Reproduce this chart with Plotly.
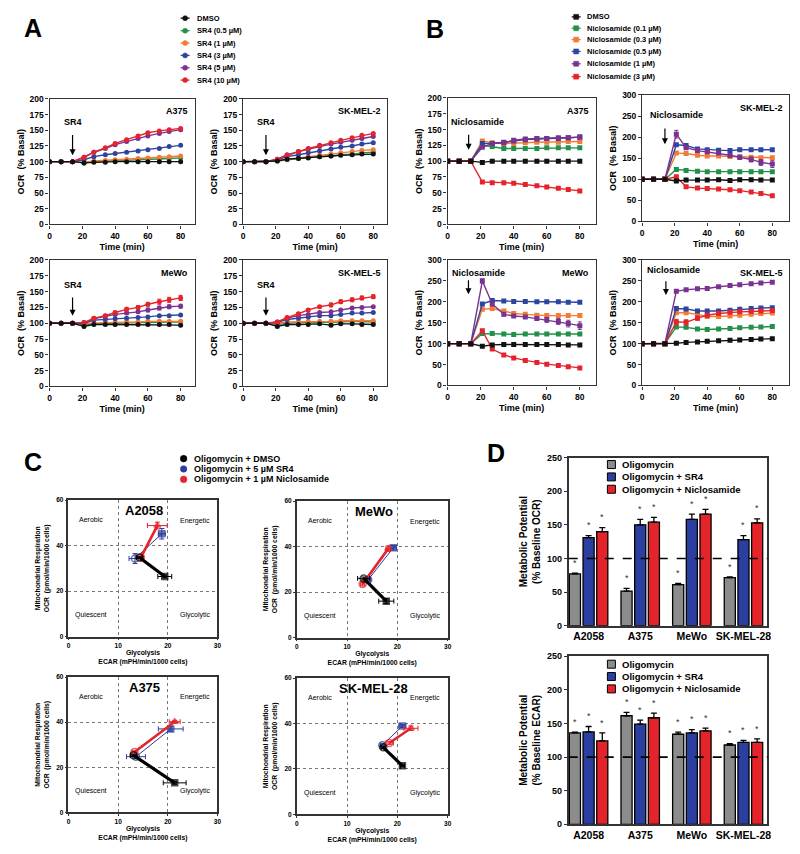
import plotly.graph_objects as go

W, H = 800, 854
FONT = "Liberation Sans, Arial, Helvetica, sans-serif"

# ------------------------------------------------------------------ data
time_min = [0, 7, 14, 21, 27, 34, 40, 47, 54, 60, 67, 73, 80]

sr4_labels = ["DMSO", "SR4 (0.5 µM)", "SR4 (1 µM)", "SR4 (3 µM)", "SR4 (5 µM)", "SR4 (10 µM)"]
nic_labels = ["DMSO", "Niclosamide (0.1 µM)", "Niclosamide (0.3 µM)",
              "Niclosamide (0.5 µM)", "Niclosamide (1 µM)", "Niclosamide (3 µM)"]
dose_colors = ["#111111", "#23904a", "#f47b36", "#2c46a0", "#7a3290", "#e5232b"]

# Panel A: OCR (% basal) after SR4, order = sr4_labels
sr4_A375 = [
    [100, 100, 100, 98, 99, 99, 100, 100, 100, 100, 100, 100, 100],
    [100, 100, 100, 98, 100, 101, 102, 102, 103, 104, 104, 105, 106],
    [100, 100, 100, 99, 101, 102, 103, 104, 105, 106, 107, 108, 109],
    [100, 100, 100, 103, 108, 111, 113, 115, 117, 119, 121, 124, 126],
    [100, 100, 100, 107, 115, 121, 127, 132, 137, 141, 145, 148, 151],
    [100, 100, 100, 107, 115, 122, 129, 135, 141, 146, 149, 151, 153],
]
sr4_SKMEL2 = [
    [100, 100, 100, 101, 104, 105, 106, 108, 109, 110, 111, 112, 112],
    [100, 100, 100, 101, 103, 105, 107, 108, 109, 111, 112, 114, 115],
    [100, 100, 100, 102, 104, 106, 108, 110, 112, 114, 116, 118, 119],
    [100, 100, 100, 103, 108, 111, 114, 117, 120, 123, 125, 128, 130],
    [100, 100, 100, 104, 111, 116, 120, 124, 128, 131, 134, 137, 140],
    [100, 100, 100, 104, 110, 116, 121, 126, 130, 134, 138, 142, 145],
]
sr4_MeWo = [
    [100, 100, 100, 95, 98, 98, 98, 98, 98, 98, 98, 98, 97],
    [100, 100, 100, 98, 99, 100, 100, 101, 101, 101, 102, 102, 102],
    [100, 100, 100, 99, 100, 101, 101, 102, 102, 103, 103, 103, 103],
    [100, 100, 100, 100, 105, 106, 107, 108, 109, 110, 112, 112, 113],
    [100, 100, 100, 101, 107, 111, 114, 116, 118, 121, 124, 126, 127],
    [100, 100, 100, 101, 108, 112, 117, 122, 125, 130, 134, 137, 140],
]
sr4_MeWo_err_10uM = [0, 0, 0, 1, 2, 2, 2, 3, 3, 3, 4, 4, 4]
sr4_MeWo_err_5uM = [0, 0, 0, 1, 1, 2, 2, 2, 2, 3, 3, 3, 3]
sr4_SKMEL5 = [
    [100, 100, 100, 95, 98, 98, 98, 99, 97, 99, 99, 98, 98],
    [100, 100, 100, 98, 100, 101, 101, 102, 101, 102, 103, 102, 102],
    [100, 100, 100, 100, 102, 102, 103, 103, 103, 104, 104, 104, 104],
    [100, 100, 100, 101, 106, 108, 110, 112, 112, 114, 116, 116, 117],
    [100, 100, 100, 102, 108, 112, 114, 117, 118, 121, 124, 125, 126],
    [100, 100, 100, 102, 109, 115, 121, 126, 129, 134, 137, 140, 142],
]
sr4_SKMEL5_err_10uM = [0, 0, 0, 1, 2, 2, 2, 2, 3, 3, 3, 3, 3]

# Panel B: OCR (% basal) after niclosamide, order = nic_labels
nic_A375 = [
    [100, 100, 100, 98, 100, 100, 100, 100, 100, 100, 100, 100, 100],
    [100, 100, 100, 125, 123, 120, 120, 120, 120, 121, 121, 121, 121],
    [100, 100, 100, 132, 129, 128, 128, 129, 130, 130, 130, 131, 131],
    [100, 100, 100, 128, 128, 130, 132, 134, 135, 136, 136, 137, 138],
    [100, 100, 100, 122, 128, 129, 133, 135, 136, 136, 137, 137, 138],
    [100, 100, 100, 67, 66, 66, 65, 63, 61, 59, 57, 55, 53],
]
nic_SKMEL2 = [
    [100, 100, 100, 96, 98, 98, 98, 99, 97, 99, 99, 98, 98],
    [100, 100, 100, 123, 121, 119, 118, 118, 118, 118, 118, 118, 118],
    [100, 100, 100, 162, 161, 157, 155, 155, 154, 153, 152, 151, 151],
    [100, 100, 100, 182, 180, 172, 170, 169, 168, 170, 170, 170, 170],
    [100, 100, 100, 207, 175, 168, 165, 162, 157, 152, 147, 140, 136],
    [100, 100, 100, 106, 82, 79, 78, 77, 75, 73, 70, 66, 61],
]
nic_SKMEL2_err_1uM = [0, 0, 0, 9, 4, 3, 3, 3, 4, 5, 6, 7, 8]
nic_MeWo = [
    [100, 100, 100, 94, 97, 98, 98, 98, 98, 98, 98, 97, 97],
    [100, 100, 100, 124, 124, 123, 122, 123, 123, 123, 123, 123, 123],
    [100, 100, 100, 182, 184, 178, 172, 170, 168, 167, 167, 167, 167],
    [100, 100, 100, 195, 203, 202, 201, 201, 200, 200, 200, 199, 199],
    [100, 100, 100, 250, 195, 170, 166, 164, 160, 157, 153, 148, 143],
    [100, 100, 100, 131, 87, 73, 66, 60, 55, 51, 48, 45, 42],
]
nic_MeWo_err_1uM = [0, 0, 0, 5, 4, 4, 3, 3, 4, 6, 7, 8, 9]
nic_SKMEL5 = [
    [100, 100, 100, 101, 103, 104, 106, 107, 108, 109, 110, 111, 112],
    [100, 100, 100, 140, 139, 135, 134, 135, 136, 138, 139, 140, 141],
    [100, 100, 100, 174, 174, 170, 165, 165, 166, 168, 170, 172, 173],
    [100, 100, 100, 184, 183, 178, 178, 178, 180, 182, 184, 185, 186],
    [100, 100, 100, 225, 229, 231, 232, 236, 239, 241, 243, 245, 247],
    [100, 100, 100, 152, 151, 161, 168, 172, 175, 176, 177, 178, 179],
]
nic_SKMEL5_err_3uM = [0, 0, 0, 6, 6, 5, 4, 3, 3, 3, 3, 3, 3]

# Panel C: energy maps, [baseline, after oligomycin]
c_labels = ["Oligomycin + DMSO", "Oligomycin + 5 µM SR4", "Oligomycin + 1 µM Niclosamide"]
c_colors = ["#000000", "#2b3c9c", "#e5232b"]
# ECAR (x), OCR (y), x-error, y-error
c_A2058_ecar = [[14.3, 19.4], [13.4, 18.8], [14.6, 17.9]]
c_A2058_ocr = [[34.8, 26.4], [34.3, 45.2], [34.8, 48.8]]
c_A2058_xerr = [[0.6, 1.4], [1.2, 0.7], [0.5, 2.0]]
c_A2058_yerr = [[0.5, 0.6], [2.2, 2.3], [0.5, 1.5]]
c_MeWo_ecar = [[13.3, 17.8], [14.2, 19.2], [13.1, 18.2]]
c_MeWo_ocr = [[26.0, 16.0], [25.4, 39.5], [23.5, 39.1]]
c_MeWo_xerr = [[1.2, 1.5], [0.5, 0.6], [0.4, 0.5]]
c_MeWo_yerr = [[0.6, 1.0], [0.6, 1.0], [0.8, 1.2]]
c_A375_ecar = [[13.1, 21.4], [13.6, 20.6], [13.3, 21.4]]
c_A375_ocr = [[25.3, 13.1], [24.7, 37.0], [26.8, 40.2]]
c_A375_xerr = [[0.6, 2.3], [1.9, 2.5], [0.5, 1.1]]
c_A375_yerr = [[0.5, 0.6], [0.6, 1.0], [0.5, 0.6]]
c_SKMEL28_ecar = [[17.2, 21.0], [17.0, 21.0], [18.4, 22.7]]
c_SKMEL28_ocr = [[29.5, 21.4], [30.4, 38.9], [31.4, 37.9]]
c_SKMEL28_xerr = [[0.4, 0.4], [0.4, 0.7], [0.8, 1.4]]
c_SKMEL28_yerr = [[0.5, 0.4], [0.6, 0.6], [0.6, 1.0]]

# Panel D: metabolic potential
d_cells = ["A2058", "A375", "MeWo", "SK-MEL-28"]
d_labels = ["Oligomycin", "Oligomycin + SR4", "Oligomycin + Niclosamide"]
d_colors = ["#8c8c8c", "#2b3fa0", "#e5232b"]
d_ocr = [[77, 51.5, 61, 71.5], [131, 150, 158, 128], [140, 154, 166, 153]]
d_ocr_err = [[1, 4, 2, 1], [3, 8, 8, 6], [6, 7, 7, 6]]
d_ecar = [[136, 161.5, 134, 118], [137.5, 149, 136, 122], [124, 158.5, 139, 122]]
d_ecar_err = [[1, 5, 3, 2], [8, 6, 5, 3], [12, 7, 4, 5]]


# ------------------------------------------------------------------ helpers
def PX(px):
    return px / W


def PY(py):
    return 1 - py / H


fig = go.Figure()
layout = dict(width=W, height=H, margin=dict(l=0, r=0, t=0, b=0),
              paper_bgcolor="white", plot_bgcolor="white", showlegend=False,
              font=dict(family=FONT, color="black"))
annotations = []
shapes = []


def axis_keys(i):
    return ("xaxis" if i == 1 else f"xaxis{i}", "yaxis" if i == 1 else f"yaxis{i}",
            "x" if i == 1 else f"x{i}", "y" if i == 1 else f"y{i}")


def set_axes(i, box, xcfg, ycfg):
    l, t, r, b = box
    xk, yk, xr, yr = axis_keys(i)
    xcfg = dict(xcfg)
    ycfg = dict(ycfg)
    xcfg.update(domain=[PX(l), PX(r)], anchor=yr)
    ycfg.update(domain=[PY(b), PY(t)], anchor=xr)
    layout[xk] = xcfg
    layout[yk] = ycfg
    return xr, yr


def line_ax(lw=1.3, tick=8.5, title=9.0):
    return dict(showline=True, mirror=True, linecolor="#333333", linewidth=lw,
                ticks="outside", ticklen=3, tickwidth=1.1, tickcolor="#333333",
                showgrid=False, zeroline=False,
                tickfont=dict(family=FONT, size=tick, weight="bold", color="black"),
                title=dict(font=dict(family=FONT, size=title, weight="bold", color="black"),
                           standoff=3))


def text(x, y, s, size, bold=True, xref="paper", yref="paper", xanchor="center",
         yanchor="middle", color="black"):
    annotations.append(dict(x=x, y=y, xref=xref, yref=yref, text=s, showarrow=False,
                            xanchor=xanchor, yanchor=yanchor,
                            font=dict(family=FONT, size=size, color=color,
                                      weight="bold" if bold else "normal")))


def arrow(xr, yr, x, y_tail, y_head):
    annotations.append(dict(x=x, y=y_head, ax=x, ay=y_tail, xref=xr, yref=yr,
                            axref=xr, ayref=yr, text="", showarrow=True,
                            arrowhead=2, arrowsize=1, arrowwidth=1.2, arrowcolor="black"))


# ------------------------------------------------------------------ panels A & B
def time_panel(i, box, series, symbol, ymax, dtick, name, label, lab_xy, arrow_spec,
               errs, xmax):
    xcfg = line_ax()
    xcfg.update(range=[0, xmax], tickvals=[0, 20, 40, 60, 80])
    xcfg["title"]["text"] = "Time (min)"
    ycfg = line_ax()
    ycfg.update(range=[0, ymax], dtick=dtick)
    ycfg["title"]["text"] = "OCR  (% Basal)"
    xr, yr = set_axes(i, box, xcfg, ycfg)
    for k in [1, 2, 3, 4, 5, 0]:
        err = errs.get(k)
        fig.add_trace(go.Scatter(
            x=time_min, y=series[k], xaxis=xr, yaxis=yr, mode="lines+markers",
            line=dict(color=dose_colors[k], width=1.4),
            marker=dict(symbol=symbol, size=5, color=dose_colors[k]),
            error_y=dict(type="data", array=err, thickness=1, width=2,
                         color=dose_colors[k], visible=err is not None),
        ))
    text(0.97, 0.9, name, 9, xref=f"{xr} domain", yref=f"{yr} domain", xanchor="right")
    text(lab_xy[0], lab_xy[1], label, 9, xref=xr, yref=yr)
    arrow(xr, yr, *arrow_spec)


time_panel(1, (48, 95, 194, 222), sr4_A375, "circle", 200, 25, "A375", "SR4",
           (14, 163), (14, 145, 110), {}, 88.5)
time_panel(2, (243, 95, 388, 222), sr4_SKMEL2, "circle", 200, 25, "SK-MEL-2", "SR4",
           (14, 163), (14, 145, 110), {}, 88.5)
time_panel(3, (48, 258, 194, 386), sr4_MeWo, "circle", 200, 25, "MeWo", "SR4",
           (14, 160), (14, 143, 112), {5: sr4_MeWo_err_10uM, 4: sr4_MeWo_err_5uM}, 88.5)
time_panel(4, (243, 258, 388, 386), sr4_SKMEL5, "circle", 200, 25, "SK-MEL-5", "SR4",
           (14, 160), (14, 143, 112), {5: sr4_SKMEL5_err_10uM}, 88.5)

time_panel(5, (449, 94, 598, 222), nic_A375, "square", 200, 25, "A375", "Niclosamide",
           (18, 162), (12.7, 144, 118), {}, 89.5)
time_panel(6, (645, 91, 793, 219), nic_SKMEL2, "square", 300, 50, "SK-MEL-2", "Niclosamide",
           (21, 253), (14, 224, 183), {4: nic_SKMEL2_err_1uM}, 90.3)
time_panel(7, (449, 258, 598, 385), nic_MeWo, "square", 300, 50, "MeWo", "Niclosamide",
           (18.5, 270), (12.6, 255, 218), {4: nic_MeWo_err_1uM}, 89.5)
time_panel(8, (645, 258, 793, 385), nic_SKMEL5, "square", 300, 50, "SK-MEL-5", "Niclosamide",
           (19.5, 276), (14.6, 253, 216), {5: nic_SKMEL5_err_3uM}, 90.3)


# ------------------------------------------------------------------ panel C
def energy_panel(i, box, name, ecar, ocr, xerr, yerr):
    xcfg = line_ax(lw=1.6, tick=6.5, title=6.8)
    xcfg.update(range=[0, 30], dtick=10, showgrid=True, griddash="dot",
                gridcolor="#777777", gridwidth=1, ticklen=2)
    xcfg["title"]["text"] = "Glycolysis<br>ECAR (mPH/min/1000 cells)"
    xcfg["title"]["standoff"] = 2
    ycfg = line_ax(lw=1.6, tick=6.5, title=6.8)
    ycfg.update(range=[0, 60], dtick=20, showgrid=True, griddash="dot",
                gridcolor="#777777", gridwidth=1, ticklen=2)
    ycfg["title"]["text"] = "Mitochondrial Respiration<br>OCR  (pmol/min/1000 cells)"
    ycfg["title"]["standoff"] = 6
    xr, yr = set_axes(i, box, xcfg, ycfg)
    widths = [3.2, 1.0, 2.6]
    end_sym = ["square", "square", "triangle-up"]
    for k in [1, 2, 0]:
        fig.add_trace(go.Scatter(
            x=ecar[k], y=ocr[k], xaxis=xr, yaxis=yr, mode="lines+markers",
            line=dict(color=c_colors[k], width=widths[k]),
            marker=dict(symbol=["circle-open", end_sym[k]], size=[7, 6],
                        color=c_colors[k], line=dict(width=1.5, color=c_colors[k])),
            error_x=dict(type="data", array=xerr[k], thickness=1, width=2.5, color=c_colors[k]),
            error_y=dict(type="data", array=yerr[k], thickness=1, width=2.5, color=c_colors[k]),
        ))
    text(15.3, 55.5, name, 13, xref=xr, yref=yr)
    text(4.6, 51.3, "Aerobic", 7, bold=False, xref=xr, yref=yr)
    text(25.5, 51.0, "Energetic", 7, bold=False, xref=xr, yref=yr)
    text(4.6, 9.4, "Quiescent", 7, bold=False, xref=xr, yref=yr)
    text(25.4, 9.4, "Glycolytic", 7, bold=False, xref=xr, yref=yr)


energy_panel(9, (67, 501, 217, 639), "A2058", c_A2058_ecar, c_A2058_ocr, c_A2058_xerr, c_A2058_yerr)
energy_panel(10, (297, 502, 449, 640), "MeWo", c_MeWo_ecar, c_MeWo_ocr, c_MeWo_xerr, c_MeWo_yerr)
energy_panel(11, (67, 680, 217, 817), "A375", c_A375_ecar, c_A375_ocr, c_A375_xerr, c_A375_yerr)
energy_panel(12, (297, 681, 449, 819), "SK-MEL-28", c_SKMEL28_ecar, c_SKMEL28_ocr,
             c_SKMEL28_xerr, c_SKMEL28_yerr)


# ------------------------------------------------------------------ panel D
def bar_panel(i, box, values, errs, ytitle):
    xcfg = line_ax(lw=1.6, tick=10.5)
    xcfg.update(range=[-0.385, 3.46], tickvals=list(range(len(d_cells))),
                ticktext=d_cells, ticks="")
    ycfg = line_ax(lw=1.6, tick=9)
    ycfg.update(range=[0, 250], dtick=50)
    ycfg["title"]["text"] = ytitle
    ycfg["title"]["font"]["size"] = 10
    ycfg["title"]["standoff"] = 5
    xr, yr = set_axes(i, box, xcfg, ycfg)
    step, bw = 0.265, 0.215
    for k in range(3):
        xs = [c + (k - 1) * step for c in range(len(d_cells))]
        fig.add_trace(go.Bar(
            x=xs, y=values[k], width=bw, xaxis=xr, yaxis=yr,
            marker=dict(color=d_colors[k], line=dict(color="black", width=1.3)),
            error_y=dict(type="data", symmetric=False, array=errs[k],
                         arrayminus=[0] * len(d_cells), thickness=1.3, width=3, color="black"),
        ))
        for xv, v, e in zip(xs, values[k], errs[k]):
            text(xv, v + e + 5, "*", 9, bold=False, xref=xr, yref=yr, yanchor="bottom",
                 color="#333333")
    shapes.append(dict(type="line", xref=f"{xr} domain", yref=yr, x0=0, x1=1, y0=100, y1=100,
                       line=dict(color="black", width=1.6, dash="dash")))


bar_panel(13, (571, 458, 771, 628), d_ocr, d_ocr_err,
          "Metabolic Potential<br>(% Baseline OCR)")
bar_panel(14, (571, 659, 771, 829), d_ecar, d_ecar_err,
          "Metabolic Potential<br>(% Baseline ECAR)")


# ------------------------------------------------------------------ manual legends
def legend_line(x0, x1, cx, rows, labels, colors, kind, tx, size, r=2.5):
    for y, lab, c in zip(rows, labels, colors):
        shapes.append(dict(type="line", xref="paper", yref="paper", x0=PX(x0), x1=PX(x1),
                           y0=PY(y), y1=PY(y), line=dict(color=c, width=1.3)))
        shapes.append(dict(type=kind, xref="paper", yref="paper", xsizemode="pixel",
                           ysizemode="pixel", xanchor=PX(cx), yanchor=PY(y),
                           x0=-r, x1=r, y0=-r, y1=r, fillcolor=c,
                           line=dict(color=c, width=0.5)))
        text(PX(tx), PY(y), lab, size, xanchor="left")


legend_line(180, 189, 184.5, [13.3, 26, 38.5, 51, 63.5, 76], sr4_labels, dose_colors,
            "circle", 194, 7.5)
legend_line(574, 583, 578.5, [12, 23.5, 35, 47, 59.5, 72.5], nic_labels, dose_colors,
            "rect", 587, 7.5)

for y, lab, c in zip([459, 469.5, 480], c_labels, c_colors):
    shapes.append(dict(type="circle", xref="paper", yref="paper", xsizemode="pixel",
                       ysizemode="pixel", xanchor=PX(183), yanchor=PY(y),
                       x0=-3.3, x1=3.3, y0=-3.3, y1=3.3, fillcolor=c, line=dict(color=c, width=0.5)))
    text(PX(191), PY(y), lab, 9, xanchor="left")

for rows in ([465, 477.5, 490], [667, 679.5, 692]):
    for y, lab, c in zip(rows, d_labels, d_colors):
        shapes.append(dict(type="rect", xref="paper", yref="paper", xsizemode="pixel",
                           ysizemode="pixel", xanchor=PX(614), yanchor=PY(y),
                           x0=-4, x1=4, y0=-4, y1=4, fillcolor=c,
                           line=dict(color="black", width=1)))
        text(PX(623), PY(y), lab, 9.5, xanchor="left")

# panel letters
for lab, (x, y) in zip(["A", "B", "C", "D"], [(31, 23), (436, 24), (31, 462), (498, 453)]):
    text(PX(x), PY(y), lab, 25)

layout["annotations"] = annotations
layout["shapes"] = shapes
fig.update_layout(**layout)
fig.write_html(
    "out.html",
    config={"displayModeBar": False},
    post_script="document.body.style.margin='0px';document.body.style.overflow='hidden';",
)
